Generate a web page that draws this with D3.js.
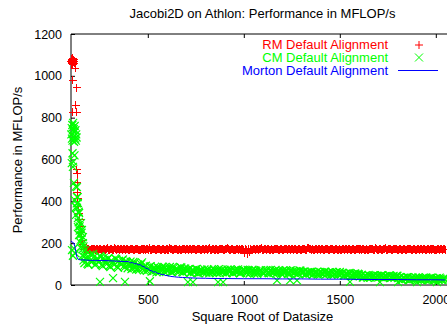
<!DOCTYPE html>
<html>
<head>
<meta charset="utf-8">
<script src="https://cdn.jsdelivr.net/npm/d3@7"></script>
<style>
  body { margin: 0; background: #fff; }
  text { font-family: "Liberation Sans", Arial, sans-serif; fill: #000; }
</style>
</head>
<body>
<div id="chart"></div>
<script>
// axis ticks
const xTicks = [500, 1000, 1500, 2000];
const yTicks = [0, 200, 400, 600, 800, 1000, 1200];

// RM default alignment: steep start, then the flat band (two interleaved runs)
const rmLeftX = [101, 103, 104, 106, 107, 109, 110, 112, 113, 115, 116, 118, 121, 109, 130, 126, 109, 130,
  131, 132, 133, 132, 134, 138, 142, 146, 150, 153, 157, 160, 163];
const rmLeftY = [1068, 1080, 1058, 1075, 1062, 1083, 1055, 1072, 1065, 1078, 1060, 1070, 1037, 980, 943, 860, 827, 827,
  550, 531, 492, 440, 412, 373, 344, 311, 280, 249, 215, 195, 185];
const rmBandX = d3.range(170, 2051, 10);
const rmBandY = [
  171,169,173,168,172,174,166,170,174,168,171,167,175,169,172,166,171,174,169,172,
  168,173,170,166,174,171,168,172,169,167,174,171,166,172,175,169,170,168,173,171,
  166,174,169,172,168,171,167,174,172,169,165,173,170,174,168,171,169,172,166,171,
  174,168,172,170,167,175,169,171,166,173,169,171,174,168,172,171,168,170,168,174,
  166,171,173,169,171,150,157,169,174,166,172,170,175,167,171,168,173,169,166,171,
  174,169,172,168,172,170,167,174,171,168,171,166,173,169,172,168,175,170,169,172,
  166,174,171,168,171,167,173,169,174,170,166,172,169,171,168,174,171,167,172,169,
  173,168,170,166,174,171,169,172,168,171,174,166,172,169,173,168,170,175,167,171,
  169,172,171,168,174,169,172,166,173,170,171,168,174,167,171,172,169,174,166,170,
  172,168,173,169,171,166,174,170,169];
const rmBand2X = d3.range(175, 2046, 10);
const rmBand2Y = [
  169,172,168,171,174,167,171,169,173,166,170,174,168,172,166,175,169,171,168,172,
  171,166,174,169,172,167,174,170,168,172,165,171,173,169,168,171,174,166,172,169,
  173,168,171,167,175,170,166,172,169,174,168,172,169,171,174,166,173,170,168,171,
  167,172,169,174,171,168,172,166,174,169,171,173,166,170,175,168,172,169,167,171,
  174,169,172,152,168,173,170,166,171,174,168,172,169,166,174,171,169,172,168,173,
  170,166,174,169,171,167,172,169,174,171,166,172,168,173,170,168,175,171,166,169,
  172,169,171,174,167,172,170,166,174,168,171,173,168,169,172,166,174,171,169,172,
  167,174,170,171,168,172,169,166,173,171,168,175,166,172,169,174,170,167,171,172,
  168,171,174,166,172,169,173,168,170,174,166,171,169,172,167,171,174,169,172,168,
  170,173,169,166,171,174,169,171];

// CM default alignment
const cmLeftX = [102, 104, 105, 107, 108, 110, 111, 113, 114, 116, 118, 119, 121, 123, 125, 127, 129,
  108, 112, 104, 110, 118, 115, 125, 120, 127, 126, 131, 131, 136, 131, 142, 136, 152, 136, 157, 142, 162, 147, 162, 173,
  140, 145, 150, 155, 150, 160, 165, 145, 155, 140, 135, 130,
  105, 110, 121, 115];
const cmLeftY = [720, 750, 700, 765, 690, 740, 775, 710, 745, 685, 730, 760, 700, 740, 690, 720, 705,
  630, 590, 583, 565, 620, 488, 470, 406, 373, 335, 468, 420, 392, 368, 344, 320, 296, 277, 263, 239, 229, 205, 200, 167,
  300, 260, 240, 220, 180, 170, 185, 280, 250, 350, 420, 390,
  167, 140, 153, 175];
const cmBandX = d3.range(160, 2051, 10);
const cmBandY = [
  140,105,128,98,145,112,135,100,122,138,
  96,130,108,125,92,118,102,127,88,115,98,122,84,110,95,
  112,80,104,74,98,86,108,70,92,78,
  88,64,82,70,86,62,78,74,84,66,80,63,87,72,76,68,85,62,79,71,
  75,58,70,62,76,57,68,73,60,66,74,56,71,63,69,58,76,65,61,72,57,68,74,59,70,64,75,56,67,71,
  60,72,55,68,63,70,54,66,71,58,64,69,56,72,61,67,55,70,62,65,58,71,54,68,63,59,66,57,70,61,
  64,52,60,56,63,50,58,62,53,61,55,64,51,59,57,63,50,60,54,62,
  56,46,54,49,58,44,52,55,47,50,
  46,36,44,39,48,35,42,45,37,43,40,47,34,41,38,46,35,43,39,44,
  36,26,34,29,38,24,32,35,27,31,37,23,33,28,36,25,30,34,22,31,27,35,24,30,28];
const cmBand2X = d3.range(165, 2046, 10);
const cmBand2Y = [
  118,142,102,132,110,148,96,126,108,
  134,90,120,100,128,86,112,96,124,82,106,118,90,114,80,
  102,76,110,84,96,72,100,80,88,68,
  74,90,66,84,60,80,71,88,64,77,69,86,61,82,70,75,65,83,60,78,
  66,74,59,71,64,77,56,69,62,75,58,72,65,60,76,63,70,57,73,66,59,74,62,69,56,71,64,67,58,73,
  67,57,70,62,73,55,66,60,69,64,56,71,59,68,63,57,72,60,66,54,69,62,67,56,70,64,58,65,55,68,
  58,63,51,61,55,64,53,59,50,62,57,52,63,55,60,49,58,53,61,51,
  52,58,45,55,48,57,43,53,49,54,
  42,48,37,45,34,43,40,47,36,44,38,46,33,42,39,45,36,41,34,43,
  33,38,25,35,28,37,23,33,29,36,26,32,24,34,27,31,22,35,26,29,33,23,30,25,29];
const cmLowX = [251, 319, 381, 511, 709, 735, 866, 892, 1173, 1241, 1277, 1553, 1709, 1803, 1902, 2006];
const cmLowY = [15, 33, 15, 18, 14, 14, 14, 14, 22, 22, 22, 15, 14, 14, 14, 14];

// Morton default alignment
const mortonX = [100,105,110,115,120,125,130,135,140,150,160,180,200,230,260,300,340,380,
  400,410,420,430,440,450,460,470,480,490,500,510,520,530,540,550,560,570,580,590,
  600,620,640,660,680,700,750,800,850,900,1000,1100,1200,1300,1400,1500,1600,1700,1800,1900,2000,2048];
const mortonY = [210,206,203,200,185,160,135,125,122,120,120,119,118,118,117,116,114,112,
  112,106,108,101,103,96,98,90,88,80,78,70,68,62,63,56,55,50,51,46,
  45,41,39,37,36,35,33,32,31,31,30,30,29,29,28,28,27,26,26,25,25,24];

const legendNames = ["RM Default Alignment", "CM Default Alignment", "Morton Default Alignment"];
const colors = ["#ff0000", "#00ff00", "#0000ff"];

let width = 447;
let height = 331;

let x = d3.scaleLinear().domain([100, 2100]).range([71, 455]);
let y = d3.scaleLinear().domain([0, 1200]).range([285, 34]);

let svg = d3.select('#chart')
  .append("svg")
  .attr("width", width)
  .attr("height", height);

// title
svg.append("text")
  .attr("x", 262.5).attr("y", 18)
  .attr("text-anchor", "middle")
  .style("font-size", "13px")
  .text("Jacobi2D on Athlon: Performance in MFLOP/s");

// axes, ticks point inward like gnuplot
let xAxis = svg.append("g")
  .attr("transform", "translate(0,285)")
  .call(d3.axisBottom(x).tickValues(xTicks).tickFormat(d3.format("d"))
    .tickSizeInner(-4).tickSizeOuter(0).tickPadding(10));
let xTop = svg.append("g")
  .attr("transform", "translate(0,34)")
  .call(d3.axisTop(x).tickValues(xTicks).tickSizeInner(-4).tickSizeOuter(0).tickFormat(""));
let yAxis = svg.append("g")
  .attr("transform", "translate(71,0)")
  .call(d3.axisLeft(y).tickValues(yTicks).tickFormat(d3.format("d"))
    .tickSizeInner(-4).tickSizeOuter(0).tickPadding(9));

[xAxis, xTop, yAxis].forEach(function (g) {
  g.select(".domain").remove();
  g.selectAll("line").attr("stroke", "#000");
  g.selectAll("text")
    .style("font-size", "12.5px")
    .attr("font-family", "Liberation Sans, Arial, sans-serif")
    .attr("fill", "#111");
});

// border
svg.append("path")
  .attr("d", "M455,34H71V285H455")
  .attr("fill", "none")
  .attr("stroke", "#000")
  .attr("stroke-width", 1);

// axis titles
svg.append("text")
  .attr("x", 262.5).attr("y", 321)
  .attr("text-anchor", "middle")
  .style("font-size", "13px")
  .text("Square Root of Datasize");

svg.append("text")
  .attr("transform", "translate(21.5,160) rotate(-90)")
  .attr("text-anchor", "middle")
  .style("font-size", "13px")
  .text("Performance in MFLOP/s");

let plus = "M-4,0H4M0,-4V4";
let cross = "M-4,-4L4,4M-4,4L4,-4";

function zip(xs, ys) {
  return xs.map(function (v, i) { return [v, ys[i]]; });
}

let rmPts = zip(rmLeftX, rmLeftY).concat(zip(rmBandX, rmBandY)).concat(zip(rmBand2X, rmBand2Y));
let cmPts = zip(cmLeftX, cmLeftY).concat(zip(cmBandX, cmBandY))
  .concat(zip(cmBand2X, cmBand2Y)).concat(zip(cmLowX, cmLowY));

svg.append("g")
  .attr("shape-rendering", "crispEdges")
  .selectAll("path")
  .data(rmPts)
  .enter()
  .append("path")
  .attr("d", plus)
  .attr("transform", function (d) { return "translate(" + x(d[0]) + "," + y(d[1]) + ")"; })
  .attr("stroke", colors[0])
  .attr("stroke-width", 1)
  .attr("fill", "none");

svg.append("g")
  .selectAll("path")
  .data(cmPts)
  .enter()
  .append("path")
  .attr("d", cross)
  .attr("transform", function (d) { return "translate(" + x(d[0]) + "," + y(d[1]) + ")"; })
  .attr("stroke", colors[1])
  .attr("stroke-width", 1.2)
  .attr("fill", "none");

let line = d3.line()
  .x(function (d) { return x(d[0]); })
  .y(function (d) { return y(d[1]); });

svg.append("path")
  .datum(zip(mortonX, mortonY))
  .attr("d", line)
  .attr("fill", "none")
  .attr("stroke", colors[2])
  .attr("stroke-width", 1);

// legend
let legendY = [49, 62, 75];
let legend = svg.append("g");
legendNames.forEach(function (name, i) {
  legend.append("text")
    .attr("x", 388).attr("y", legendY[i])
    .attr("text-anchor", "end")
    .style("font-size", "13px")
    .style("fill", colors[i])
    .text(name);
});
legend.append("path")
  .attr("d", plus)
  .attr("transform", "translate(419,45)")
  .attr("stroke", colors[0]).attr("fill", "none");
legend.append("path")
  .attr("d", cross)
  .attr("transform", "translate(419,57.5)")
  .attr("stroke", colors[1]).attr("fill", "none");
legend.append("line")
  .attr("x1", 398).attr("x2", 438)
  .attr("y1", 70.5).attr("y2", 70.5)
  .attr("stroke", colors[2]);
</script>
</body>
</html>
